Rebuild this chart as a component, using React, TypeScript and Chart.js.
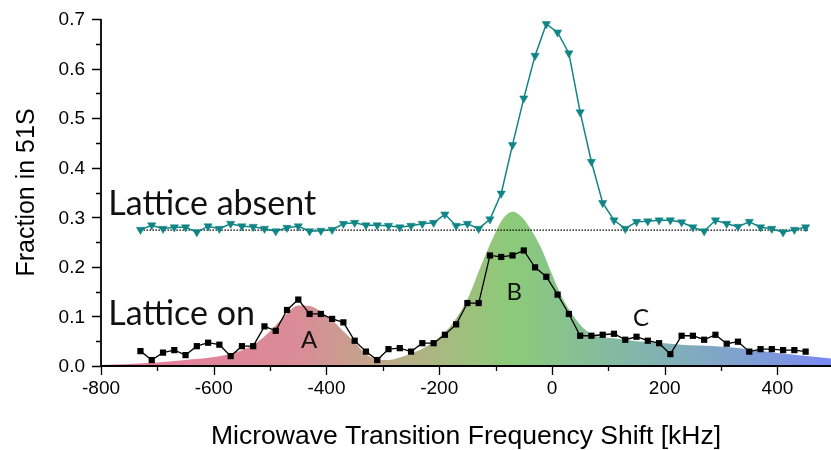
import React, { useEffect, useRef } from "react";
import { Chart, registerables } from "chart.js";

Chart.register(...registerables);

// ---------- data ----------
const freqs = [
  -730, -710, -690, -670, -650, -630, -610, -590, -570, -550,
  -530, -510, -490, -470, -450, -430, -410, -390, -370, -350,
  -330, -310, -290, -270, -250, -230, -210, -190, -170, -150,
  -130, -110, -90, -70, -50, -30, -10, 10, 30, 50,
  70, 90, 110, 130, 150, 170, 190, 210, 230, 250,
  270, 290, 310, 330, 350, 370, 390, 410, 430, 450,
];

const latticeAbsent = [
  0.275, 0.284, 0.277, 0.28, 0.28, 0.27, 0.282, 0.277, 0.287, 0.282,
  0.281, 0.277, 0.272, 0.279, 0.282, 0.272, 0.273, 0.275, 0.287, 0.289,
  0.284, 0.284, 0.283, 0.28, 0.283, 0.287, 0.289, 0.306, 0.283, 0.287,
  0.277, 0.296, 0.348, 0.446, 0.54, 0.626, 0.69, 0.673, 0.631, 0.512,
  0.412, 0.329, 0.294, 0.277, 0.291, 0.292, 0.294, 0.294, 0.29, 0.28,
  0.272, 0.294, 0.287, 0.281, 0.291, 0.28, 0.277, 0.27, 0.275, 0.28,
];

const latticeOn = [
  0.03, 0.012, 0.027, 0.032, 0.022, 0.04, 0.047, 0.043, 0.02, 0.04,
  0.04, 0.08, 0.071, 0.113, 0.134, 0.105, 0.105, 0.095, 0.088, 0.051,
  0.029, 0.012, 0.034, 0.036, 0.029, 0.046, 0.046, 0.063, 0.084, 0.127,
  0.127, 0.223, 0.22, 0.223, 0.233, 0.199, 0.18, 0.144, 0.105, 0.061,
  0.061, 0.063, 0.065, 0.053, 0.059, 0.051, 0.046, 0.024, 0.061, 0.061,
  0.053, 0.063, 0.045, 0.049, 0.029, 0.034, 0.034, 0.032, 0.032, 0.029,
];

const envelopeX = [
  -800, -750, -700, -650, -600, -550, -525, -500, -475, -450,
  -430, -410, -390, -370, -350, -330, -310, -290, -270, -250,
  -225, -200, -175, -150, -125, -100, -85, -70, -55, -40,
  -20, 0, 20, 40, 60, 80, 110, 150, 200, 230,
  290, 350, 400, 460, 495,
];
const envelopeY = [
  0.002, 0.004, 0.007, 0.012, 0.018, 0.032, 0.046, 0.07, 0.1, 0.122,
  0.121, 0.11, 0.093, 0.07, 0.048, 0.024, 0.013, 0.012, 0.017, 0.025,
  0.038, 0.058, 0.088, 0.135, 0.205, 0.27, 0.3, 0.311, 0.302, 0.28,
  0.24, 0.185, 0.134, 0.098, 0.072, 0.06, 0.056, 0.05, 0.046, 0.043,
  0.04, 0.034, 0.026, 0.019, 0.015,
];

const gradientFreqs = [-800, -450, -300, -160, -75, 150, 300, 495];
const gradientColors = ["#e87a9b", "#da8c97", "#bfa88a", "#a0be7e", "#8ccb79", "#82b6aa", "#80a5c8", "#7a8af2"];

const absentBaseline = 0.274;
const baselineRange = [-730, 455];

const xMajorTicks = [-800, -600, -400, -200, 0, 200, 400];
const xMinorTicks = [-700, -500, -300, -100, 100, 300];
const yMajorTicks = [0, 0.1, 0.2, 0.3, 0.4, 0.5, 0.6, 0.7];
const yMinorTicks = [0.05, 0.15, 0.25, 0.35, 0.45, 0.55, 0.65];

const xTitle = "Microwave Transition Frequency Shift [kHz]";
const yTitle = "Fraction in 51S";

const seriesLabels = [
  { text: "Lattice absent", x: -787, y: 0.304 },
  { text: "Lattice on", x: -787, y: 0.083 },
];
const peakLabels = [
  { text: "A", x: -431, y: 0.036 },
  { text: "B", x: -67, y: 0.134 },
  { text: "C", x: 158, y: 0.081 },
];

const TEAL = "#118585";

// ---------- plugin ----------
const decorPlugin = {
  id: "decor",
  afterDatasetsDraw(chart: any) {
    const { ctx, scales } = chart;
    const x = scales.x;
    const y = scales.y;
    ctx.save();
    ctx.fillStyle = "#111";
    ctx.textBaseline = "alphabetic";
    ctx.textAlign = "left";
    ctx.font = "34px Lato";
    seriesLabels.forEach((l) => {
      ctx.fillText(l.text, x.getPixelForValue(l.x), y.getPixelForValue(l.y));
    });
    ctx.textAlign = "center";
    ctx.font = "24px Lato";
    peakLabels.forEach((l) => {
      ctx.fillText(l.text, x.getPixelForValue(l.x), y.getPixelForValue(l.y));
    });
    ctx.restore();
  },
  afterDraw(chart: any) {
    const { ctx, chartArea: a, scales } = chart;
    const x = scales.x;
    const y = scales.y;
    ctx.save();
    ctx.strokeStyle = "#000";
    ctx.lineWidth = 1.8;
    ctx.beginPath();
    ctx.moveTo(a.left, a.top);
    ctx.lineTo(a.left, a.bottom);
    ctx.lineTo(a.right, a.bottom);
    ctx.stroke();

    ctx.lineWidth = 1.3;
    ctx.beginPath();
    yMajorTicks.forEach((v) => {
      const p = Math.round(y.getPixelForValue(v)) + 0.5;
      ctx.moveTo(a.left - 9, p);
      ctx.lineTo(a.left, p);
    });
    yMinorTicks.forEach((v) => {
      const p = Math.round(y.getPixelForValue(v)) + 0.5;
      ctx.moveTo(a.left - 5, p);
      ctx.lineTo(a.left, p);
    });
    xMajorTicks.forEach((v) => {
      const p = Math.round(x.getPixelForValue(v)) + 0.5;
      ctx.moveTo(p, a.bottom);
      ctx.lineTo(p, a.bottom + 9);
    });
    xMinorTicks.forEach((v) => {
      const p = Math.round(x.getPixelForValue(v)) + 0.5;
      ctx.moveTo(p, a.bottom);
      ctx.lineTo(p, a.bottom + 5);
    });
    ctx.stroke();

    ctx.fillStyle = "#000";
    ctx.font = "19px 'Liberation Sans'";
    ctx.textAlign = "right";
    ctx.textBaseline = "middle";
    yMajorTicks.forEach((v) => {
      ctx.fillText(v.toFixed(1), a.left - 16, y.getPixelForValue(v) + 1);
    });
    ctx.textAlign = "center";
    xMajorTicks.forEach((v) => {
      ctx.fillText(String(v), x.getPixelForValue(v), a.bottom + 23);
    });

    ctx.font = "26.5px 'Liberation Sans'";
    ctx.fillText(xTitle, (a.left + a.right) / 2, a.bottom + 71);
    ctx.save();
    ctx.translate(27, (a.top + a.bottom) / 2);
    ctx.rotate(-Math.PI / 2);
    ctx.font = "25px 'Liberation Sans'";
    ctx.fillText(yTitle, 0, 0);
    ctx.restore();
    ctx.restore();
  },
};

export default function App() {
  const ref = useRef<HTMLCanvasElement | null>(null);

  useEffect(() => {
    const canvas = ref.current;
    if (!canvas) return;
    const absentPts = freqs.map((f, i) => ({ x: f, y: latticeAbsent[i] }));
    const onPts = freqs.map((f, i) => ({ x: f, y: latticeOn[i] }));
    const envPts = envelopeX.map((f, i) => ({ x: f, y: envelopeY[i] }));
    const basePts = baselineRange.map((f) => ({ x: f, y: absentBaseline }));

    const chart = new Chart(canvas, {
      type: "line",
      data: {
        datasets: [
          {
            label: "Lattice absent",
            data: absentPts,
            borderColor: TEAL,
            backgroundColor: TEAL,
            borderWidth: 1.5,
            pointStyle: "triangle",
            rotation: 180,
            pointRadius: 4.8,
            pointBorderWidth: 0.5,
            pointBorderColor: TEAL,
            pointBackgroundColor: TEAL,
            tension: 0,
            fill: false,
            clip: false,
            order: 1,
          },
          {
            label: "Lattice on",
            data: onPts,
            borderColor: "#000",
            backgroundColor: "#000",
            borderWidth: 1.3,
            pointStyle: "rect",
            pointRadius: 4.4,
            pointBorderWidth: 0,
            pointBackgroundColor: "#000",
            tension: 0,
            fill: false,
            clip: false,
            order: 2,
          },
          {
            label: "baseline",
            data: basePts,
            borderColor: "#000",
            borderWidth: 1.2,
            borderDash: [1.5, 1.5],
            pointRadius: 0,
            fill: false,
            order: 3,
          },
          {
            label: "envelope",
            data: envPts,
            borderWidth: 0,
            borderColor: "rgba(0,0,0,0)",
            pointRadius: 0,
            cubicInterpolationMode: "monotone",
            fill: "origin",
            backgroundColor: (c: any) => {
              const ch = c.chart;
              const area = ch.chartArea;
              if (!area) return "rgba(200,200,200,0.5)";
              const xs = ch.scales.x;
              const x0 = xs.getPixelForValue(gradientFreqs[0]);
              const x1 = xs.getPixelForValue(gradientFreqs[gradientFreqs.length - 1]);
              const g = ch.ctx.createLinearGradient(x0, 0, x1, 0);
              gradientFreqs.forEach((f, i) => {
                g.addColorStop((xs.getPixelForValue(f) - x0) / (x1 - x0), gradientColors[i]);
              });
              return g;
            },
            order: 4,
          },
        ],
      },
      options: {
        responsive: false,
        animation: false,
        devicePixelRatio: 1,
        layout: { autoPadding: false, padding: { left: 101, top: 19, right: 0, bottom: 84 } },
        plugins: { legend: { display: false }, tooltip: { enabled: false } },
        scales: {
          x: { type: "linear", min: -800, max: 495, display: false },
          y: { type: "linear", min: 0, max: 0.7, display: false },
        },
      },
      plugins: [decorPlugin],
    });
    return () => chart.destroy();
  }, []);

  return (
    <div style={{ position: "absolute", left: 0, top: 0, width: 831, height: 450, background: "#fff" }}>
      <canvas ref={ref} width={831} height={450} />
    </div>
  );
}
